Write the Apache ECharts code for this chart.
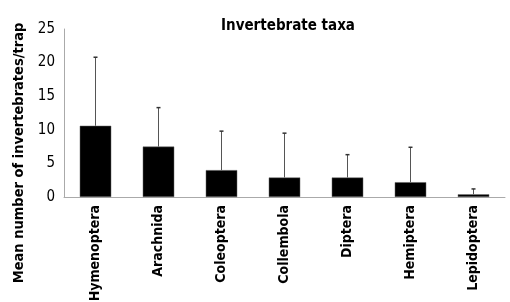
<!DOCTYPE html>
<html><head><meta charset="utf-8">
<script src="https://cdn.jsdelivr.net/npm/echarts@6/dist/echarts.min.js"></script>
<style>html,body{margin:0;padding:0;background:#fff}#c{width:510px;height:302px}</style>
</head><body><div id="c"></div>
<script>
var categories = ['Hymenoptera','Arachnida','Coleoptera','Collembola','Diptera','Hemiptera','Lepidoptera'];
var means = [10.6, 7.5, 4.0, 2.9, 2.9, 2.2, 0.4];
var errTops = [20.8, 13.3, 9.8, 9.5, 6.3, 7.4, 1.2];
var yTicks = [0, 5, 10, 15, 20, 25];
var yTitle = 'Mean number of invertebrates/trap';

var FONT = '"Liberation Sans Narrow","DejaVu Sans Condensed",sans-serif';
var chart = echarts.init(document.getElementById('c'));
chart.setOption({
  animation: false,
  title: {text: 'Invertebrate taxa', left: 283, top: 14, textAlign: 'center',
    textStyle: {fontFamily: FONT, fontWeight: 'bold', fontSize: 15, color: '#000'}},
  graphic: [{type: 'text', x: 19, y: 153, rotation: Math.PI / 2,
    style: {text: yTitle, align: 'center', verticalAlign: 'middle',
      font: 'bold 14.5px ' + FONT, fill: '#000'}}],
  grid: {left: 64, right: 5, top: 29, bottom: 105, containLabel: false, outerBoundsMode: 'none'},
  xAxis: {type: 'category', data: categories,
    axisLine: {lineStyle: {color: '#aaa'}}, axisTick: {show: false},
    axisLabel: {rotate: 90, margin: 8, interval: 0, fontFamily: FONT, fontWeight: 'bold', fontSize: 14, color: '#000'}},
  yAxis: {type: 'value', min: yTicks[0], max: yTicks[yTicks.length-1], interval: 5,
    axisLine: {show: true, lineStyle: {color: '#aaa'}}, axisTick: {show: false}, splitLine: {show: false},
    axisLabel: {margin: 9, fontFamily: FONT, fontSize: 15, color: '#000'}},
  series: [
    {type: 'bar', data: means, barWidth: '50%', itemStyle: {color: '#000', borderColor: '#666', borderWidth: 0.5}},
    {type: 'custom', data: categories.map(function(c, i){ return [i, means[i], errTops[i]]; }),
      renderItem: function(params, api){
        var lo = api.coord([api.value(0), api.value(1)]);
        var hi = api.coord([api.value(0), api.value(2)]);
        return {type: 'group', children: [
          {type: 'line', shape: {x1: lo[0], y1: lo[1], x2: hi[0], y2: hi[1]}, style: {stroke: '#555', lineWidth: 1}},
          {type: 'line', shape: {x1: hi[0]-2, y1: hi[1], x2: hi[0]+2, y2: hi[1]}, style: {stroke: '#333', lineWidth: 1.5}}
        ]};
      }, z: 3}
  ]
});
</script></body></html>
